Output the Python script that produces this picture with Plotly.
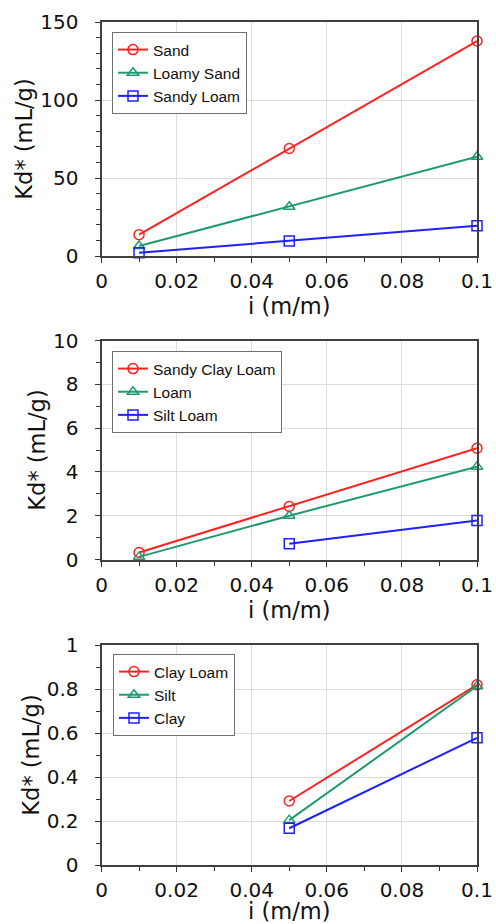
import plotly.graph_objects as go

x_vals = [0.01, 0.05, 0.1]

# Panel 1
p1_names = ["Sand", "Loamy Sand", "Sandy Loam"]
sand = [13.7, 68.9, 137.8]
loamy_sand = [6.4, 31.6, 63.6]
sandy_loam = [2.1, 9.6, 19.4]

# Panel 2
p2_names = ["Sandy Clay Loam", "Loam", "Silt Loam"]
sandy_clay_loam = [0.32, 2.42, 5.08]
loam = [0.12, 2.0, 4.24]
silt_loam = [None, 0.72, 1.78]

# Panel 3
p3_names = ["Clay Loam", "Silt", "Clay"]
clay_loam = [None, 0.291, 0.819]
silt = [None, 0.204, 0.813]
clay = [None, 0.167, 0.578]

x_ticks = [0, 0.02, 0.04, 0.06, 0.08, 0.1]
x_ticklabels = ["0", "0.02", "0.04", "0.06", "0.08", "0.1"]

colors = ["#ff2020", "#1f9a70", "#2020ff"]
symbols = ["circle-open", "triangle-up-open", "square-open"]

panels = [
    (p1_names, [sand, loamy_sand, sandy_loam], [0, 150], 50, 10),
    (p2_names, [sandy_clay_loam, loam, silt_loam], [0, 10], 2, 1),
    (p3_names, [clay_loam, silt, clay], [0, 1], 0.2, 0.1),
]

H = 924.0
W = 496.0
ydoms = [(1 - 256 / H, 1 - 22 / H), (1 - 559.5 / H, 1 - 340.5 / H), (1 - 865 / H, 1 - 645 / H)]
xdom = (101.5 / W, 477 / W)
legend_pos = [(112 / W, 1 - 32 / H), (112 / W, 1 - 351 / H), (113 / W, 1 - 654 / H)]

fig = go.Figure()
layout = dict(
    width=496, height=924,
    margin=dict(l=0, r=0, t=0, b=0, autoexpand=False),
    paper_bgcolor="white", plot_bgcolor="white",
    showlegend=True,
)

tick_font = dict(family="DejaVu Sans", size=20, color="#111111")
title_font = dict(family="DejaVu Sans", size=22.5, color="#111111")

for k, (names, series, yr, dt, mdt) in enumerate(panels):
    idx = "" if k == 0 else str(k + 1)
    legname = "legend" if k == 0 else "legend" + str(k + 1)
    for j, (nm, ys) in enumerate(zip(names, series)):
        fig.add_trace(go.Scatter(
            x=x_vals, y=ys, name=nm, mode="lines+markers",
            xaxis="x" + idx, yaxis="y" + idx,
            line=dict(color=colors[j], width=2),
            marker=dict(symbol=symbols[j], size=10, color=colors[j], line=dict(width=1.5)),
            cliponaxis=False, legend=legname,
        ))
    layout["xaxis" + idx] = dict(
        domain=list(xdom), anchor="y" + idx, range=[0, 0.1],
        tickvals=x_ticks, ticktext=x_ticklabels,
        ticks="outside", ticklen=5, tickcolor="#333333", tickwidth=1.2,
        minor=dict(dtick=0.01, ticks="outside", ticklen=4, tickcolor="#333333", showgrid=False),
        showline=True, linecolor="#404040", linewidth=2, mirror=True,
        showgrid=True, gridcolor="#dcdcdc", gridwidth=1,
        zeroline=False, tickfont=tick_font, ticklabelstandoff=1,
        automargin=False,
        title=dict(text="i (m/m)", font=title_font, standoff=3),
    )
    layout["yaxis" + idx] = dict(
        domain=list(ydoms[k]), anchor="x" + idx, range=yr,
        dtick=dt, tick0=0,
        ticks="outside", ticklen=5, tickcolor="#333333", tickwidth=1.2,
        minor=dict(dtick=mdt, ticks="outside", ticklen=4, tickcolor="#333333", showgrid=False),
        showline=True, linecolor="#404040", linewidth=2, mirror=True,
        showgrid=True, gridcolor="#dcdcdc", gridwidth=1,
        zeroline=False, tickfont=tick_font, ticklabelstandoff=12,
        automargin=False,
        title=dict(text="Kd* (mL/g)", font=title_font, standoff=1),
    )
    lx, ly = legend_pos[k]
    layout[legname] = dict(
        x=lx, y=ly, xanchor="left", yanchor="top",
        bgcolor="white", bordercolor="#707070", borderwidth=1,
        font=dict(family="Liberation Sans", size=15.5, color="#111111"),
        tracegroupgap=0, itemwidth=30,
    )

fig.update_layout(**layout)
fig.write_html("out.html")
